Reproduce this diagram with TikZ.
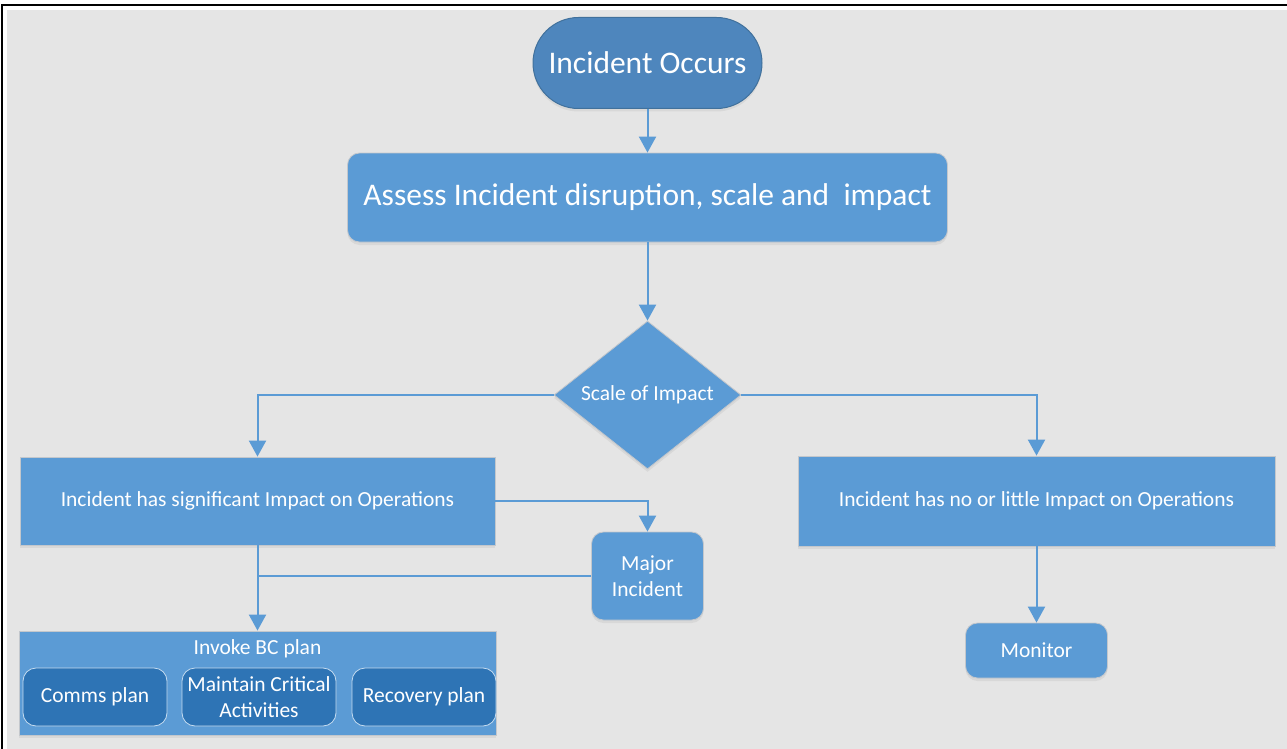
\documentclass[tikz,border=0pt]{standalone}
\usepackage{fontspec}
\setmainfont{Carlito}
\usepackage{tikz}
\usetikzlibrary{shapes.geometric}
\usetikzlibrary{positioning}
\usetikzlibrary{arrows.meta}
\usetikzlibrary{shadows}

\definecolor{flowblue}{HTML}{5B9BD5}
\definecolor{startblue}{HTML}{4E86BD}
\definecolor{startedge}{HTML}{41719C}
\definecolor{deepblue}{HTML}{2E74B5}
\definecolor{canvas}{HTML}{E5E5E5}
\definecolor{edgegray}{HTML}{C3C7CC}

\begin{document}
\begin{tikzpicture}[x=1pt,y=-1pt,
        every node/.style={text=white, align=center, inner sep=0pt},
        bigtext/.style={font=\fontsize{31.5}{36}\selectfont},
        smalltext/.style={font=\fontsize{21.5}{25.5}\selectfont},
        softshadow/.style={drop shadow={opacity=0.12, shadow xshift=0pt, shadow yshift=-3pt}},
        startbox/.style={rectangle, rounded corners=45.5pt, fill=startblue, draw=startedge, line width=1pt, bigtext, softshadow},
        stepbox/.style={rectangle, rounded corners=12pt, fill=flowblue, draw=edgegray, line width=0.8pt, softshadow},
        flatbox/.style={rectangle, fill=flowblue, draw=edgegray, line width=0.8pt, smalltext, softshadow},
        decision/.style={diamond, aspect=1.26, fill=flowblue, draw=edgegray, line width=0.8pt, smalltext, softshadow},
        planbox/.style={rectangle, rounded corners=13pt, fill=deepblue, draw=white!65!flowblue, line width=0.8pt, smalltext, minimum height=58pt},
        flow/.style={draw=flowblue, line width=2pt, -{Triangle[width=17pt,length=16pt]}},
        link/.style={draw=flowblue, line width=2pt}
    ]
        \useasboundingbox (0,0) rectangle (1287,749);
        \fill[white] (0,0) rectangle (1287,749);
        \fill[canvas] (7,10) rectangle (1287,749);
        \draw[black, line width=2.5pt] (2,749) -- (2,5) -- (1287,5);

        \node[startbox, minimum width=229pt, minimum height=91pt] (occurs) at (647.5,63) {Incident Occurs};
        \node[stepbox, bigtext, minimum width=600pt, minimum height=89pt] (assess) at (647.5,197.5) {Assess Incident disruption, scale and\ \ impact};
        \node[decision, minimum width=187pt, minimum height=148pt] (scale) at (647.5,395) {Scale of Impact};
        \node[flatbox, minimum width=475pt, minimum height=88pt] (significant) at (257.5,501) {Incident has significant Impact on Operations};
        \node[flatbox, minimum width=477pt, minimum height=90pt] (little) at (1036.5,501) {Incident has no or little Impact on Operations};
        \node[stepbox, smalltext, minimum width=112pt, minimum height=88pt] (major) at (647.5,576) {Major\\Incident};
        \node[stepbox, smalltext, minimum width=142pt, minimum height=55pt] (monitor) at (1036.5,650.5) {Monitor};

        \node[flatbox, minimum width=477pt, minimum height=104pt] (invoke) at (257.5,683) {};
        \node[smalltext] (invoketitle) at (257.5,649) {Invoke BC plan};
        \node[planbox, minimum width=144pt] (comms) at (95,697) {Comms plan};
        \node[planbox, minimum width=154pt] (maintain) at (259,697) {Maintain Critical\\Activities};
        \node[planbox, minimum width=144pt] (recovery) at (424,697) {Recovery plan};

        \draw[flow] (occurs) -- (assess);
        \draw[flow] (assess) -- (scale);
        \draw[flow] (scale.west) -| (significant.north);
        \draw[flow] (scale.east) -| (little.north);
        \draw[flow] (significant.east) -| (major.north);
        \draw[flow] (significant) -- (invoke);
        \draw[link] (major.west) -- (major.west -| significant.south);
        \draw[flow] (little) -- (monitor);

    \end{tikzpicture}
\end{document}
